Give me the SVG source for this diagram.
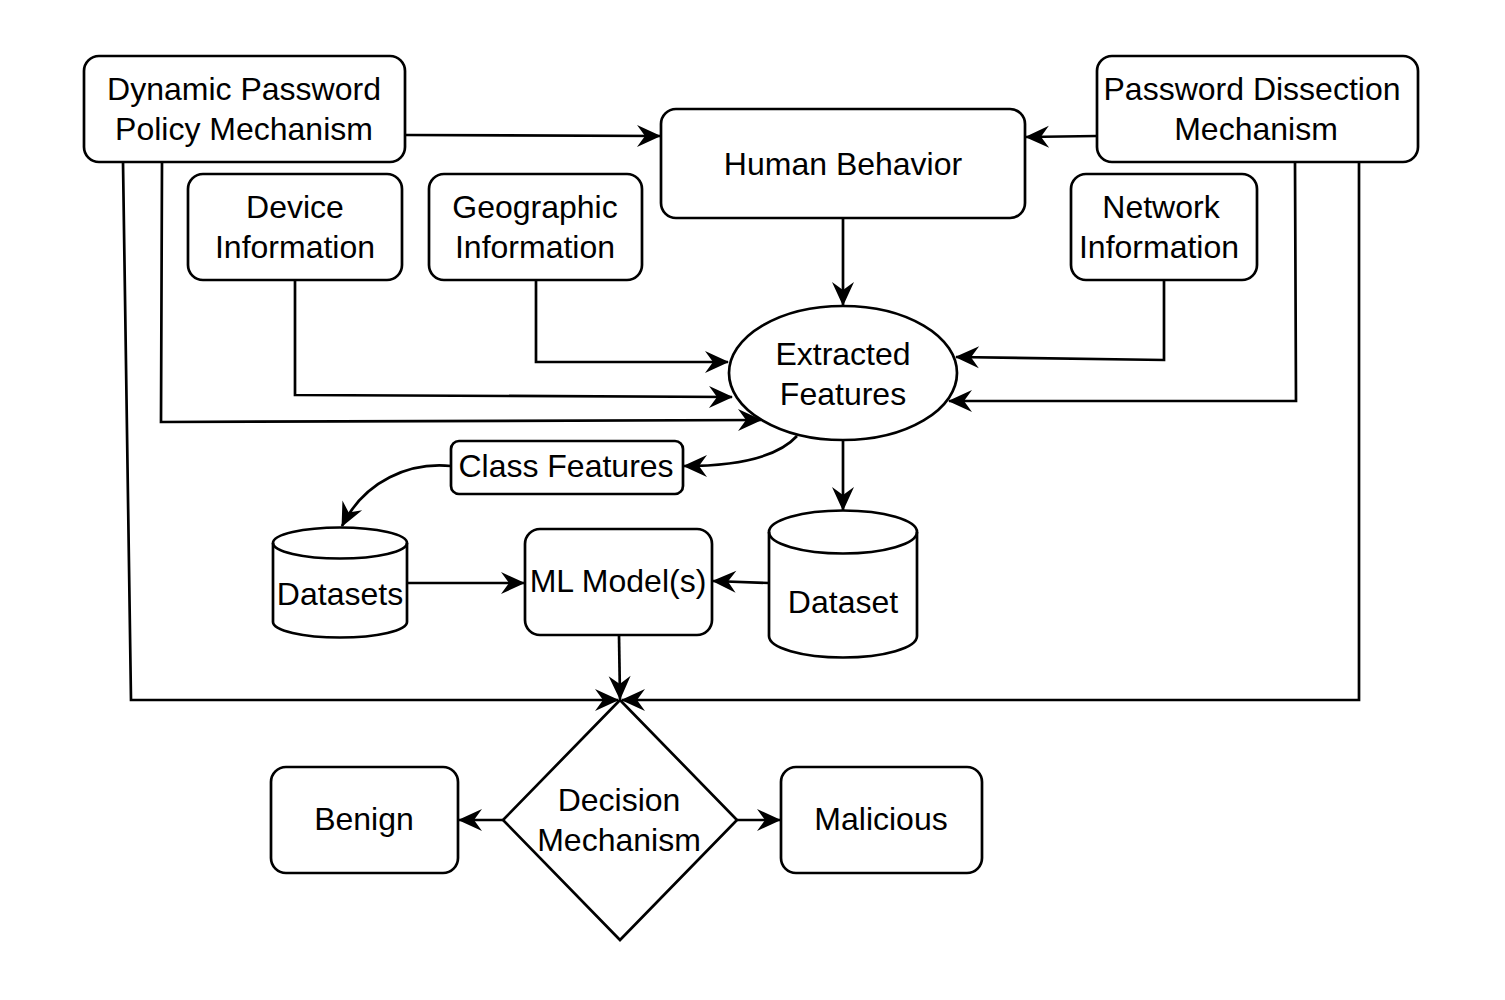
<svg xmlns="http://www.w3.org/2000/svg" width="1505" height="1000" viewBox="0 0 1505 1000">
<defs>
<style>
.n{fill:#fff;stroke:#000;stroke-width:2.7}
.t{font-family:"Liberation Sans",Arial,sans-serif;font-size:32px;fill:#000;text-anchor:middle}
.c{fill:none;stroke:#000;stroke-width:2.7;marker-end:url(#arr)}
.l{fill:none;stroke:#000;stroke-width:2.7}
</style>
<marker id="arr" viewBox="-1 -12 26 24" refX="23" refY="0" markerWidth="26" markerHeight="24" orient="auto" markerUnits="userSpaceOnUse">
<path d="M0,-11 L24,0 L0,11 L8,0 Z" fill="#000"/>
</marker>
</defs>
<rect width="1505" height="1000" fill="#fff"/>
<g id="connectors">
<path class="c" d="M405,135 L660,136"/>
<path class="c" d="M1097,136 L1026,137"/>
<path class="c" d="M843,218 L843,305"/>
<path class="c" d="M295,280 L295,395 L732,397"/>
<path class="c" d="M536,280 L536,362 L728,362"/>
<path class="c" d="M1164,280 L1164,360 L956,357"/>
<path class="c" d="M1295,162 L1296,401 L949,401"/>
<path class="c" d="M1359,162 L1359,700 L622,700"/>
<path class="c" d="M123,162 L131,700 L618,700"/>
<path class="c" d="M162,162 L161,422 L761,420"/>
<path class="c" d="M797,436 C775,460 730,466 684,466"/>
<path class="c" d="M451,466 C410,462 365,480 342,526"/>
<path class="c" d="M843,441 L843,510"/>
<path class="c" d="M407,583 L524,583"/>
<path class="c" d="M769,583 L713,581"/>
<path class="c" d="M619,635 L620,699"/>
<path class="c" d="M503,820 L459,820"/>
<path class="c" d="M737,820 L780,820"/>
</g>
<g id="dynamic">
<rect class="n" x="84" y="56" width="321" height="106" rx="15"/>
<text class="t" x="244" y="100">Dynamic Password</text>
<text class="t" x="244" y="140">Policy Mechanism</text>
</g>
<g id="human">
<rect class="n" x="661" y="109" width="364" height="109" rx="15"/>
<text class="t" x="843" y="175">Human Behavior</text>
</g>
<g id="dissection">
<rect class="n" x="1097" y="56" width="321" height="106" rx="15"/>
<text class="t" x="1252" y="100">Password Dissection</text>
<text class="t" x="1256" y="140">Mechanism</text>
</g>
<g id="device">
<rect class="n" x="188" y="174" width="214" height="106" rx="15"/>
<text class="t" x="295" y="218">Device</text>
<text class="t" x="295" y="258">Information</text>
</g>
<g id="geographic">
<rect class="n" x="429" y="174" width="213" height="106" rx="15"/>
<text class="t" x="535" y="218">Geographic</text>
<text class="t" x="535" y="258">Information</text>
</g>
<g id="network">
<rect class="n" x="1071" y="174" width="186" height="106" rx="15"/>
<text class="t" x="1161" y="218">Network</text>
<text class="t" x="1159" y="258">Information</text>
</g>
<g id="extracted">
<ellipse class="n" cx="843" cy="373" rx="114" ry="67"/>
<text class="t" x="843" y="365">Extracted</text>
<text class="t" x="843" y="405">Features</text>
</g>
<g id="classfeatures">
<rect class="n" x="451" y="441" width="232" height="53" rx="8"/>
<text class="t" x="566" y="477">Class Features</text>
</g>
<g id="datasets">
<path class="n" d="M273,543 A67,15.5 0 0 1 407,543 L407,622 A67,15.5 0 0 1 273,622 Z"/>
<path class="l" d="M273,543 A67,15.5 0 0 0 407,543"/>
<text class="t" x="340" y="605">Datasets</text>
</g>
<g id="mlmodel">
<rect class="n" x="525" y="529" width="187" height="106" rx="15"/>
<text class="t" x="618" y="592">ML Model(s)</text>
</g>
<g id="dataset">
<path class="n" d="M769,532 A74,21.5 0 0 1 917,532 L917,636 A74,21.5 0 0 1 769,636 Z"/>
<path class="l" d="M769,532 A74,21.5 0 0 0 917,532"/>
<text class="t" x="843" y="613">Dataset</text>
</g>
<g id="decision">
<path class="n" d="M620,700 L737,820 L620,940 L503,820 Z"/>
<text class="t" x="619" y="811">Decision</text>
<text class="t" x="619" y="851">Mechanism</text>
</g>
<g id="benign">
<rect class="n" x="271" y="767" width="187" height="106" rx="15"/>
<text class="t" x="364" y="830">Benign</text>
</g>
<g id="malicious">
<rect class="n" x="781" y="767" width="201" height="106" rx="15"/>
<text class="t" x="881" y="830">Malicious</text>
</g>
</svg>
